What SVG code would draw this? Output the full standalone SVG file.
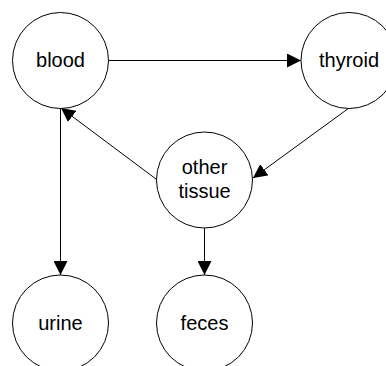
<svg xmlns="http://www.w3.org/2000/svg" width="386" height="366" viewBox="0 0 386 366">
<style>
.node{fill:#fff;stroke:#000;stroke-width:1}
.lbl{font-family:"Liberation Sans",Arial,sans-serif;font-size:20px;fill:#000;text-anchor:middle}
.edge{stroke:#000;stroke-width:1;fill:none;marker-end:url(#arr)}
</style>
<defs>
<marker id="arr" markerUnits="userSpaceOnUse" markerWidth="14" markerHeight="14" viewBox="0 0 13 13" refX="13" refY="6.5" orient="auto">
<path d="M0,0 L13,6.5 L0,13 Z" fill="#000"/>
</marker>
</defs>
<rect width="386" height="366" fill="#fff"/>
<g id="connectors">
<line class="edge" x1="108.5" y1="60.5" x2="301" y2="60.5"/>
<line class="edge" x1="349" y1="108" x2="253" y2="178"/>
<line class="edge" x1="156" y1="179" x2="61" y2="108"/>
<line class="edge" x1="60.5" y1="108.5" x2="60.5" y2="275"/>
<line class="edge" x1="204.5" y1="228" x2="204.5" y2="275"/>
</g>
<g id="blood"><circle class="node" cx="60.5" cy="60.5" r="48"/><text class="lbl" x="60.5" y="67">blood</text></g>
<g id="thyroid"><circle class="node" cx="349" cy="60.5" r="48"/><text class="lbl" x="349" y="67">thyroid</text></g>
<g id="other"><circle class="node" cx="204.5" cy="180" r="48"/><text class="lbl" x="204.5" y="174">other</text><text class="lbl" x="204.5" y="198">tissue</text></g>
<g id="urine"><circle class="node" cx="60.5" cy="323" r="48"/><text class="lbl" x="60.5" y="330">urine</text></g>
<g id="feces"><circle class="node" cx="204.5" cy="323" r="48"/><text class="lbl" x="204.5" y="330">feces</text></g>
</svg>
